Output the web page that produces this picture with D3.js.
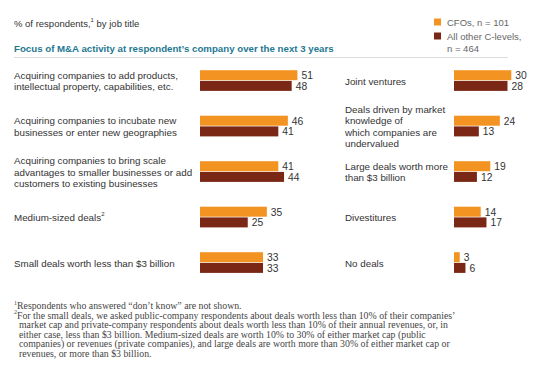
<!DOCTYPE html>
<html>
<head>
<meta charset="utf-8">
<script src="https://cdn.jsdelivr.net/npm/d3@7"></script>
<style>
  body { margin: 0; background: #fff; }
  svg { display: block; }
</style>
</head>
<body>
<div id="chart"></div>
<script>
// data
const seriesNames = ["CFOs, n = 101", "All other C-levels,|n = 464"];
const leftCategories = [
  ["Acquiring companies to add products,", "intellectual property, capabilities, etc."],
  ["Acquiring companies to incubate new", "businesses or enter new geographies"],
  ["Acquiring companies to bring scale", "advantages to smaller businesses or add", "customers to existing businesses"],
  ["Medium-sized deals|2"],
  ["Small deals worth less than $3 billion"]
];
const leftCfo = [51, 46, 41, 35, 33];
const leftOther = [48, 41, 44, 25, 33];
const rightCategories = [
  ["Joint ventures"],
  ["Deals driven by market", "knowledge of", "which companies are", "undervalued"],
  ["Large deals worth more", "than $3 billion"],
  ["Divestitures"],
  ["No deals"]
];
const rightCfo = [30, 24, 19, 14, 3];
const rightOther = [28, 13, 12, 17, 6];
const footnotes = [
  "\u00b9Respondents who answered \u201cdon\u2019t know\u201d are not shown.",
  "\u00b2For the small deals, we asked public-company respondents about deals worth less than 10% of their companies\u2019",
  "market cap and private-company respondents about deals worth less than 10% of their annual revenues, or, in",
  "either case, less than $3 billion. Medium-sized deals are worth 10% to 30% of either market cap (public",
  "companies) or revenues (private companies), and large deals are worth more than 30% of either market cap or",
  "revenues, or more than $3 billion."
];

const W = 545, H = 376;
const colors = ["#f39322", "#7b2716"];
const sans = "'Liberation Sans', Arial, Helvetica, sans-serif";
const textColor = "#333";
const labelSize = 9.8;

const svg = d3.select("#chart").append("svg")
  .attr("width", W).attr("height", H)
  .attr("font-family", sans);

// header
svg.append("text")
  .attr("x", 14).attr("y", 22.5)
  .attr("dominant-baseline", "central")
  .attr("font-size", 9.5).attr("fill", textColor)
  .call(t => {
    t.append("tspan").text("% of respondents,");
    t.append("tspan").attr("font-size", 6).attr("dy", -3).text("1");
    t.append("tspan").attr("dy", 3).text(" by job title");
  });

svg.append("text")
  .attr("x", 14).attr("y", 48)
  .attr("dominant-baseline", "central")
  .attr("font-size", 9.7).attr("font-weight", "bold")
  .attr("fill", "#1e7891")
  .text("Focus of M&A activity at respondent\u2019s company over the next 3 years");

svg.append("line")
  .attr("x1", 14).attr("x2", 508)
  .attr("y1", 57.5).attr("y2", 57.5)
  .attr("stroke", "#ddd").attr("stroke-width", 1);

// legend
const legend = svg.append("g").attr("transform", "translate(434, 0)");
seriesNames.forEach((name, i) => {
  const y0 = 22 + i * 14;
  legend.append("rect")
    .attr("x", 0).attr("y", y0 - 3.5)
    .attr("width", 7).attr("height", 7)
    .attr("fill", colors[i]);
  name.split("|").forEach((line, j) => {
    legend.append("text")
      .attr("x", 13).attr("y", y0 + j * 12)
      .attr("dominant-baseline", "central")
      .attr("font-size", 9.5).attr("fill", "#666")
      .text(line);
  });
});

// scales
const x = d3.scaleLinear().domain([0, 100]).range([0, 191]);
const rowY = d3.scaleLinear().domain([0, 4]).range([80.5, 262.5]);
const barH = 10;
const lineH = 11.4;

function drawPanel(labelX, barX, categories, cfo, other) {
  const g = svg.append("g");
  categories.forEach((lines, i) => {
    const cy = rowY(i);
    const top = cy - (lines.length - 1) * lineH / 2;
    lines.forEach((line, j) => {
      const [main, sup] = line.split("|");
      const t = g.append("text")
        .attr("x", labelX).attr("y", top + j * lineH)
        .attr("dominant-baseline", "central")
        .attr("font-size", labelSize).attr("fill", textColor);
      t.append("tspan").text(main);
      if (sup) t.append("tspan").attr("font-size", 6).attr("dy", -3).text(sup);
    });
    [cfo[i], other[i]].forEach((v, k) => {
      const y0 = k === 0 ? cy - barH - 0.3 : cy + 0.4;
      g.append("rect")
        .attr("x", barX).attr("y", y0)
        .attr("width", x(v)).attr("height", barH)
        .attr("fill", colors[k]);
      g.append("text")
        .attr("x", barX + x(v) + 4).attr("y", y0 + barH / 2 + 0.5)
        .attr("dominant-baseline", "central")
        .attr("font-size", 10.3).attr("fill", textColor)
        .text(v);
    });
  });
}

drawPanel(14, 200, leftCategories, leftCfo, leftOther);
drawPanel(345, 454, rightCategories, rightCfo, rightOther);

// footnotes
const fn = svg.append("g")
  .attr("font-family", "Georgia, 'Liberation Serif', 'DejaVu Serif', serif")
  .attr("font-size", 9.8).attr("fill", "#444");
footnotes.forEach((line, i) => {
  const isSup = line[0] === "\u00b9" || line[0] === "\u00b2";
  const t = fn.append("text")
    .attr("x", isSup ? 14 : 19)
    .attr("y", 305 + i * 9.7)
    .attr("dominant-baseline", "central");
  if (isSup) {
    t.append("tspan").attr("font-size", 6).attr("dy", -2.5)
      .text(line[0] === "\u00b9" ? "1" : "2");
    t.append("tspan").attr("dy", 2.5).text(line.slice(1));
  } else {
    t.text(line);
  }
});
</script>
</body>
</html>
